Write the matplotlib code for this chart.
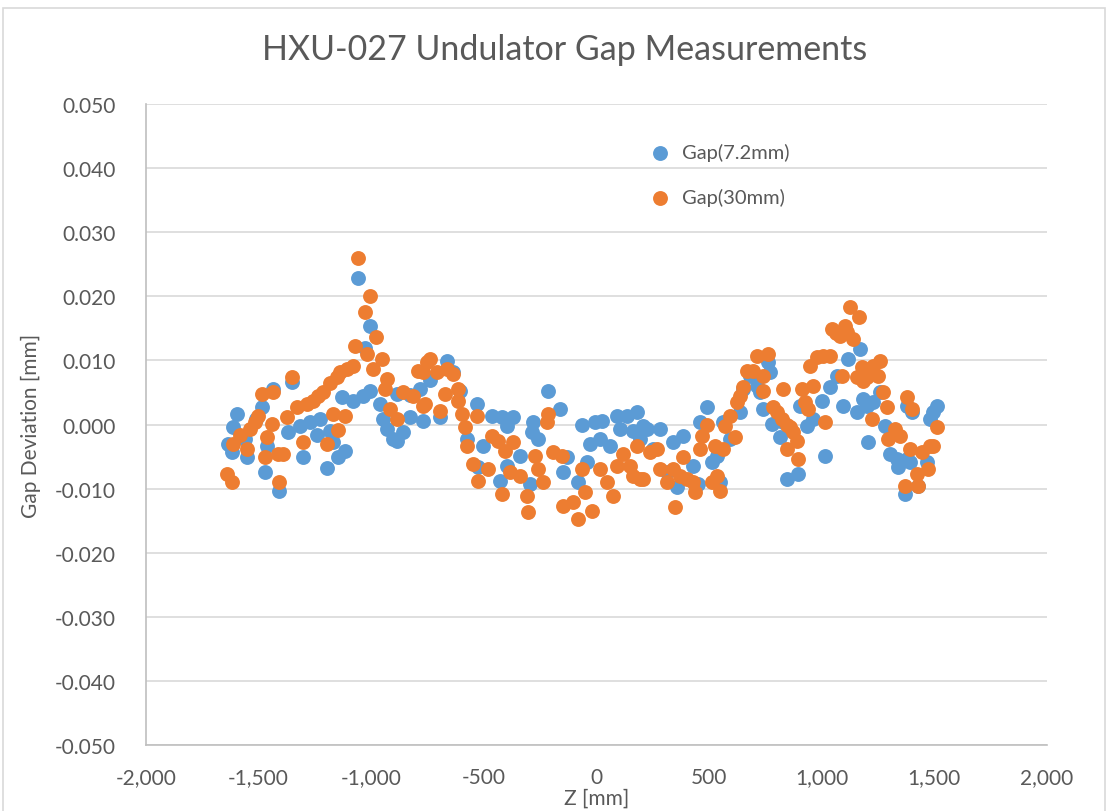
import matplotlib.pyplot as plt
from matplotlib.patches import Rectangle

# Gap(7.2mm) - blue
z_72 = [-1634, -1619, -1612, -1594, -1553, -1560, -1511, -1486, -1471, -1464,
        -1434, -1409, -1353, -1368, -1316, -1301, -1272, -1242, -1227, -1196,
        -1182, -1169, -1147, -1116, -1129, -1080, -1058, -1036, -1027, -1005,
        -1005, -961, -947, -930, -903, -885, -885, -858, -827, -827,
        -783, -770, -738, -694, -663, -636, -605, -575, -530, -525,
        -503, -463, -428, -419, -396, -396, -370, -339, -295, -286,
        -282, -259, -215, -162, -148, -130, -82, -64, -42, -29,
        -6, 16, 25, 61, 92, 105, 136, 163, 181, 194,
        207, 224, 252, 283, 313, 341, 357, 385, 428, 451,
        459, 490, 512, 535, 548, 561, 592, 637, 650, 681,
        712, 725, 739, 761, 770, 779, 815, 828, 845, 894,
        903, 934, 961, 1001, 1014, 1036, 1067, 1094, 1116, 1156,
        1169, 1183, 1200, 1205, 1227, 1258, 1280, 1302, 1333, 1338,
        1369, 1378, 1378, 1391, 1400, 1427, 1467, 1480, 1494, 1511]
dev_72 = [-0.0030, -0.0043, -0.0004, 0.0017, -0.0051, -0.0023, 0.0009, 0.0027, -0.0074, -0.0033,
          0.0056, -0.0104, 0.0066, -0.0012, -0.0002, -0.0050, 0.0004, -0.0017, 0.0009, -0.0068,
          -0.0010, -0.0028, -0.0051, -0.0041, 0.0043, 0.0037, 0.0229, 0.0045, 0.0120, 0.0154,
          0.0053, 0.0032, 0.0009, -0.0007, -0.0023, -0.0025, 0.0048, -0.0012, 0.0012, 0.0046,
          0.0055, 0.0006, 0.0070, 0.0012, 0.0099, 0.0082, 0.0052, -0.0023, 0.0032, -0.0066,
          -0.0033, 0.0013, -0.0088, 0.0012, -0.0002, -0.0065, 0.0012, -0.0049, -0.0093, -0.0012,
          0.0004, -0.0023, 0.0052, 0.0024, -0.0074, -0.0051, -0.0090, 0.0000, -0.0059, -0.0031,
          0.0004, -0.0023, 0.0006, -0.0033, 0.0013, -0.0007, 0.0013, -0.0010, 0.0019, -0.0023,
          -0.0002, -0.0007, -0.0038, -0.0007, -0.0074, -0.0027, -0.0098, -0.0018, -0.0065, -0.0093,
          0.0004, 0.0027, -0.0059, -0.0049, -0.0090, 0.0004, -0.0023, 0.0019, 0.0055, 0.0076,
          0.0060, 0.0051, 0.0024, 0.0098, 0.0082, 0.0001, -0.0020, 0.0004, -0.0085, -0.0077,
          0.0029, -0.0002, 0.0009, 0.0037, -0.0049, 0.0058, 0.0076, 0.0029, 0.0102, 0.0019,
          0.0118, 0.0040, 0.0029, -0.0027, 0.0035, 0.0050, -0.0002, -0.0046, -0.0054, -0.0066,
          -0.0108, -0.0054, 0.0029, -0.0059, 0.0019, -0.0096, -0.0059, 0.0009, 0.0019, 0.0029]

# Gap(30mm) - orange
z_30 = [-1642, -1616, -1613, -1582, -1553, -1538, -1516, -1501, -1486, -1471,
        -1464, -1442, -1434, -1412, -1409, -1390, -1375, -1353, -1331, -1301,
        -1287, -1257, -1235, -1213, -1196, -1182, -1169, -1151, -1147, -1138,
        -1116, -1107, -1080, -1071, -1058, -1027, -1018, -1005, -992, -979,
        -952, -939, -930, -917, -885, -858, -814, -792, -770, -770,
        -761, -752, -739, -708, -694, -672, -663, -636, -614, -614,
        -596, -583, -575, -548, -530, -525, -481, -463, -437, -419,
        -406, -383, -370, -339, -308, -304, -273, -259, -237, -219,
        -215, -192, -152, -148, -104, -82, -64, -51, -20, 16,
        47, 74, 92, 119, 149, 163, 181, 194, 207, 239,
        270, 283, 313, 341, 350, 372, 385, 403, 430, 439,
        461, 470, 490, 512, 526, 535, 548, 561, 570, 592,
        615, 623, 637, 650, 668, 694, 712, 739, 739, 761,
        783, 801, 823, 828, 845, 845, 859, 872, 890, 894,
        912, 925, 938, 948, 961, 979, 1005, 1014, 1036, 1045,
        1063, 1080, 1089, 1103, 1111, 1125, 1138, 1156, 1165, 1178,
        1183, 1200, 1183, 1200, 1222, 1227, 1249, 1258, 1271, 1289,
        1293, 1325, 1347, 1369, 1378, 1391, 1400, 1422, 1427, 1445,
        1471, 1480, 1494, 1511]
dev_30 = [-0.0077, -0.0089, -0.0030, -0.0017, -0.0038, -0.0007, 0.0004, 0.0014, 0.0048, -0.0050,
          -0.0020, 0.0001, 0.0050, -0.0046, -0.0090, -0.0046, 0.0012, 0.0074, 0.0027, -0.0027,
          0.0032, 0.0037, 0.0045, 0.0051, -0.0030, 0.0064, 0.0017, 0.0074, -0.0008, 0.0082,
          0.0013, 0.0087, 0.0092, 0.0122, 0.0260, 0.0175, 0.0110, 0.0200, 0.0087, 0.0136,
          0.0102, 0.0055, 0.0071, 0.0024, 0.0009, 0.0050, 0.0045, 0.0084, 0.0082, 0.0029,
          0.0032, 0.0098, 0.0102, 0.0082, 0.0021, 0.0048, 0.0087, 0.0079, 0.0055, 0.0037,
          0.0016, -0.0004, -0.0033, -0.0062, 0.0013, -0.0088, -0.0069, -0.0018, -0.0026, -0.0108,
          -0.0041, -0.0074, -0.0028, -0.0080, -0.0111, -0.0137, -0.0049, -0.0069, -0.0090, 0.0004,
          0.0016, -0.0043, -0.0049, -0.0127, -0.0121, -0.0147, -0.0069, -0.0105, -0.0135, -0.0069,
          -0.0090, -0.0111, -0.0065, -0.0046, -0.0065, -0.0080, -0.0033, -0.0085, -0.0085, -0.0043,
          -0.0038, -0.0069, -0.0090, -0.0069, -0.0129, -0.0080, -0.0051, -0.0085, -0.0090, -0.0105,
          -0.0038, -0.0018, 0.0000, -0.0090, -0.0033, -0.0080, -0.0103, -0.0038, -0.0002, 0.0013,
          -0.0020, 0.0035, 0.0045, 0.0058, 0.0084, 0.0084, 0.0107, 0.0076, 0.0052, 0.0110,
          0.0027, 0.0019, 0.0009, 0.0055, 0.0000, -0.0038, -0.0004, -0.0012, -0.0026, -0.0054,
          0.0055, 0.0035, 0.0024, 0.0091, 0.0060, 0.0105, 0.0107, 0.0004, 0.0107, 0.0149,
          0.0143, 0.0138, 0.0076, 0.0154, 0.0144, 0.0183, 0.0133, 0.0074, 0.0167, 0.0090,
          0.0068, 0.0084, 0.0087, 0.0074, 0.0009, 0.0091, 0.0076, 0.0099, 0.0050, 0.0027,
          -0.0023, -0.0007, -0.0018, -0.0096, 0.0043, -0.0038, 0.0024, -0.0077, -0.0096, -0.0043,
          -0.0069, -0.0033, -0.0033, -0.0004]

x_ticks = [-2000, -1500, -1000, -500, 0, 500, 1000, 1500, 2000]
y_ticks = [-0.05, -0.04, -0.03, -0.02, -0.01, 0.0, 0.01, 0.02, 0.03, 0.04, 0.05]

plt.rcParams['font.family'] = ['Lato', 'DejaVu Sans']
txt = '#595959'

fig = plt.figure(figsize=(11.13, 8.12), dpi=100)
ax = fig.add_axes([146 / 1113, 1 - 746 / 812, 901 / 1113, 641 / 812])

ax.scatter(z_72, dev_72, s=115, color='#5B9BD5', linewidths=0, label='Gap(7.2mm)', zorder=3)
ax.scatter(z_30, dev_30, s=115, color='#ED7D31', linewidths=0, label='Gap(30mm)', zorder=4)

ax.set_xlim(-2000, 2000)
ax.set_ylim(-0.05, 0.05)
ax.set_xticks(x_ticks)
ax.set_xticklabels([f'{v:,}' for v in x_ticks])
ax.set_yticks(y_ticks)
ax.set_yticklabels([f'{v:.3f}' for v in y_ticks])
ax.tick_params(axis='y', length=0, labelsize=15, colors=txt, pad=22)
ax.tick_params(axis='x', length=0, labelsize=15, colors=txt, pad=16)
ax.grid(axis='y', color='#D9D9D9', linewidth=1.2)
ax.set_axisbelow(True)
for s in ['top', 'right']:
    ax.spines[s].set_visible(False)
for s in ['left', 'bottom']:
    ax.spines[s].set_color('#BFBFBF')
    ax.spines[s].set_linewidth(1.2)

ax.set_xlabel('Z [mm]', fontsize=15, color=txt, labelpad=0)
ax.set_ylabel('Gap Deviation [mm]', fontsize=15, color=txt, labelpad=10)
fig.text(565 / 1113, 1 - 50 / 812, 'HXU-027 Undulator Gap Measurements',
         ha='center', va='center', fontsize=24.5, color=txt)

leg = ax.legend(loc='upper left', bbox_to_anchor=(632 / 1113, 1 - 136 / 812),
                bbox_transform=fig.transFigure, frameon=False, fontsize=14.5,
                labelspacing=1.35, handletextpad=0.1, borderaxespad=0)
for t in leg.get_texts():
    t.set_color(txt)

fig.patches.append(Rectangle((3 / 1113, -0.05), 1102 / 1113, 1.05 - 9 / 812,
                             transform=fig.transFigure, fill=False,
                             edgecolor='#D9D9D9', linewidth=1.2))

plt.savefig('out.png', dpi=100)
